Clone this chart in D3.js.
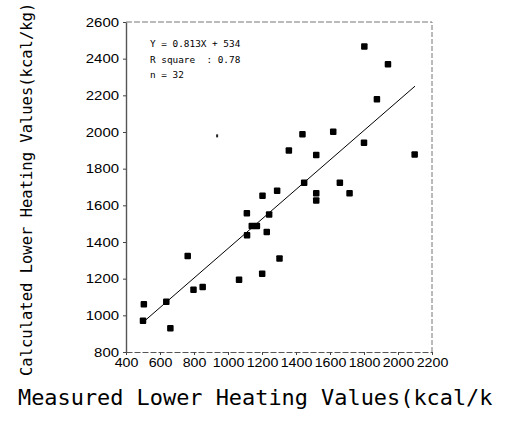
<!DOCTYPE html>
<html><head><meta charset="utf-8">
<script src="https://cdn.jsdelivr.net/npm/d3@7"></script>
<style>html,body{margin:0;padding:0;background:#fff}svg{display:block}</style>
</head><body>
<script>
// measured (x) vs calculated (y) lower heating values, kcal/kg
const measured = [505, 500, 637, 661, 763, 797, 851, 1065, 1111, 1112, 1140, 1170, 1203, 1201, 1228, 1242,
  1289, 1303, 1358, 1438, 1448, 1519, 1519, 1519, 1619, 1658, 1715, 1800, 1802, 1876, 1941, 2098];
const calculated = [1060, 970, 1074, 930, 1323, 1140, 1154, 1194, 1557, 1437, 1487, 1487, 1652, 1227, 1454, 1550,
  1679, 1310, 1899, 1988, 1723, 1875, 1666, 1626, 2002, 1723, 1666, 1942, 2467, 2178, 2369, 1877];
const fitX = [500, 2100];
const fitY = [962, 2250];
const xTicks = [400, 600, 800, 1000, 1200, 1400, 1600, 1800, 2000, 2200];
const yTicks = [800, 1000, 1200, 1400, 1600, 1800, 2000, 2200, 2400, 2600];
const strayMark = [[936, 1979]];
const annotation = ["Y = 0.813X + 534", "R square  : 0.78", "n = 32"];
// the reference image is cropped: only this much of the x title is visible
const xTitle = "Measured Lower Heating Values(kcal/k";
const yTitle = "Calculated Lower Heating Values(kcal/kg)";

const W = 509, H = 430;
const svg = d3.select("body").append("svg").attr("width", W).attr("height", H);
const x = d3.scaleLinear().domain([400, 2200]).range([126, 432]);
const y = d3.scaleLinear().domain([800, 2600]).range([352, 22]);
const fmt = d3.format("d");

// frame
svg.append("line").attr("x1", x(2200)).attr("x2", x(2200)).attr("y1", y(800)).attr("y2", y(2600))
  .attr("stroke", "#777").attr("stroke-dasharray", "5,2").attr("stroke-width", 1);
svg.append("line").attr("x1", x(400)).attr("x2", x(2200)).attr("y1", y(2600)).attr("y2", y(2600))
  .attr("stroke", "#777").attr("stroke-dasharray", "6,2").attr("stroke-width", 1);

// axes
const xAxis = svg.append("g").attr("transform", `translate(0,${y(800)})`)
  .call(d3.axisBottom(x).tickValues(xTicks).tickFormat(fmt).tickSize(3).tickSizeOuter(0).tickPadding(3));
xAxis.select(".domain").attr("stroke", "#555").attr("stroke-dasharray", "6,2");
xAxis.selectAll(".tick line").attr("stroke", "#444");
xAxis.selectAll(".tick text").attr("font-family", "Liberation Sans, Arial, sans-serif").attr("font-size", 12.5)
  .attr("fill", "#000").attr("dy", "0.75em")
  .attr("textLength", d => fmt(d).length * 7.9).attr("lengthAdjust", "spacingAndGlyphs");

const yAxis = svg.append("g").attr("transform", `translate(${x(400)},0)`)
  .call(d3.axisLeft(y).tickValues(yTicks).tickFormat(fmt).tickSize(3).tickSizeOuter(0).tickPadding(4));
yAxis.select(".domain").attr("stroke", "#555").attr("stroke-width", 1.4);
yAxis.selectAll(".tick line").attr("stroke", "#444");
yAxis.selectAll(".tick text").attr("font-family", "Liberation Sans, Arial, sans-serif").attr("font-size", 12.5)
  .attr("fill", "#000")
  .attr("textLength", d => fmt(d).length * 8.3).attr("lengthAdjust", "spacingAndGlyphs");

// regression line
svg.append("line").attr("x1", x(fitX[0])).attr("y1", y(fitY[0])).attr("x2", x(fitX[1])).attr("y2", y(fitY[1]))
  .attr("stroke", "#000").attr("stroke-width", 1);

// points
const pts = measured.map((m, i) => [m, calculated[i]]);
const s = 6.5;
svg.append("g").selectAll("rect").data(pts).join("rect")
  .attr("x", d => x(d[0]) - s / 2).attr("y", d => y(d[1]) - s / 2)
  .attr("width", s).attr("height", s).attr("rx", 1).attr("fill", "#000");

svg.append("g").selectAll("rect").data(strayMark).join("rect")
  .attr("x", d => x(d[0]) - 1).attr("y", d => y(d[1]) - 1.5)
  .attr("width", 2).attr("height", 3).attr("fill", "#222");

// annotation
svg.append("g").selectAll("text").data(annotation).join("text")
  .attr("x", 150).attr("y", (d, i) => 47 + i * 15.7)
  .attr("font-family", "DejaVu Sans Mono, monospace").attr("font-size", 9.4)
  .attr("fill", "#000").style("white-space", "pre").attr("xml:space", "preserve")
  .text(d => d);

// axis titles
svg.append("text")
  .attr("x", 18).attr("y", 405)
  .attr("font-family", "DejaVu Sans Mono, monospace").attr("font-size", 21.9)
  .attr("fill", "#000").text(xTitle);

svg.append("text")
  .attr("transform", "translate(32,376) rotate(-90)")
  .attr("font-family", "DejaVu Sans Mono, monospace").attr("font-size", 15.5)
  .attr("fill", "#000").text(yTitle);
</script>
</body></html>
